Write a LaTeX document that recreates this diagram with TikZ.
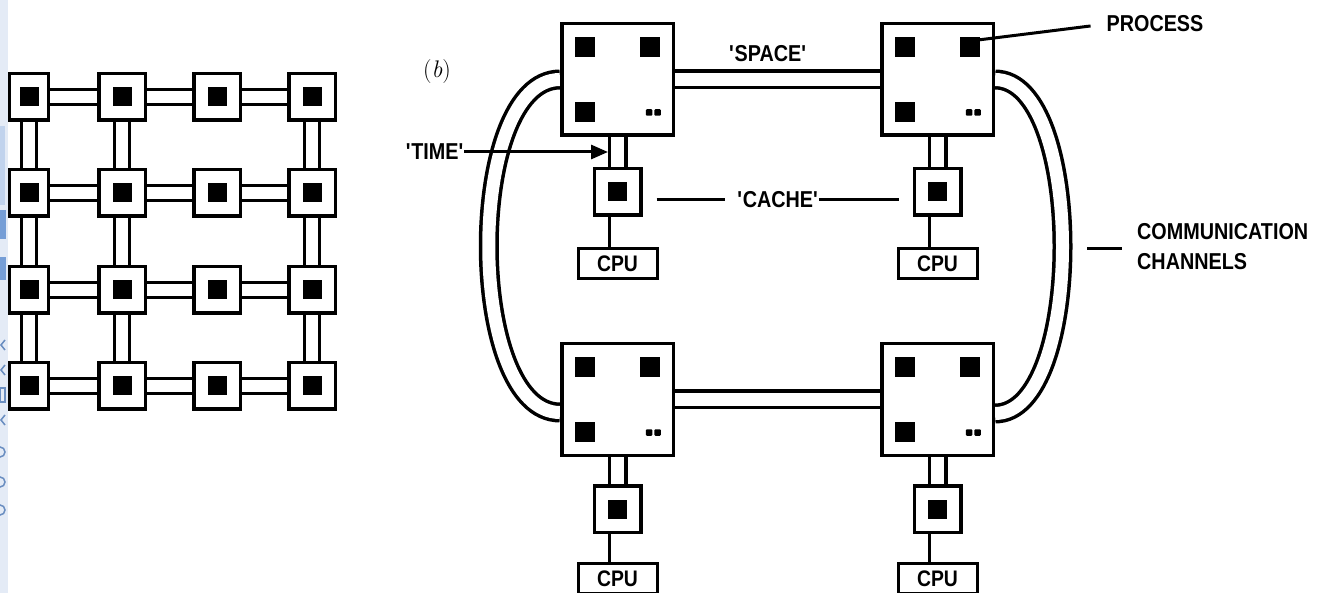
\documentclass[tikz,border=0pt]{standalone}
\usepackage{fontspec}
\newfontfamily\labelfont{Liberation Sans}[FakeStretch=0.86]
\usetikzlibrary{arrows.meta,positioning,backgrounds}
\definecolor{bandblue}{RGB}{228,235,246}
\definecolor{markblue}{RGB}{118,158,214}
\tikzset{
  cell/.style={
    draw,
    line width=3.5pt,
    fill=white,
    minimum width=46.5pt,
    minimum height=46.5pt,
    inner sep=0pt,
    path picture={\fill[black] (path picture bounding box.center) +(-9.5pt,-9.5pt) rectangle +(9.5pt,9.5pt);}
  },
  proc/.style={
    draw,
    line width=3.5pt,
    fill=white,
    minimum size=111.5pt,
    inner sep=0pt,
    path picture={
      \fill[black] ([shift={(13.5pt,-13.5pt)}]path picture bounding box.north west) rectangle +(19.5pt,-19.5pt);
      \fill[black] ([shift={(-13.5pt,-13.5pt)}]path picture bounding box.north east) rectangle +(-19.5pt,-19.5pt);
      \fill[black] ([shift={(13.5pt,13.5pt)}]path picture bounding box.south west) rectangle +(19.5pt,19.5pt);
      \fill[black, rounded corners=1pt] ([shift={(-12.5pt,19.5pt)}]path picture bounding box.south east) rectangle +(-6.5pt,6.5pt);
      \fill[black, rounded corners=1pt] ([shift={(-21pt,19.5pt)}]path picture bounding box.south east) rectangle +(-6.5pt,6.5pt);
    }
  },
  cpu/.style={
    draw,
    line width=3pt,
    fill=white,
    minimum width=79pt,
    minimum height=30pt,
    inner sep=0pt,
    font=\labelfont\bfseries\fontsize{22.5}{26}\selectfont
  },
  lbl/.style={
    inner sep=0pt,
    align=left,
    font=\labelfont\bfseries\fontsize{23}{30}\selectfont
  },
  link/.style={
    draw=black,
    line width=3.5pt,
    double=white,
    double distance=11.5pt
  },
  chan/.style={
    link,
    double distance=13pt
  },
  wire/.style={
    line width=3pt
  },
  arrow/.style={
    -{Triangle[length=17pt,width=14pt]},
    line width=3pt
  }
}
\begin{document}
\begin{tikzpicture}[x=1pt,y=-1pt,node distance=205pt]
\useasboundingbox (0,0) rectangle (1320,593);
% page edge
\fill[bandblue] (0,0) rectangle (8,593);
\fill[markblue!45] (0,126) rectangle (5,205);
\fill[markblue] (0,210) rectangle (6,239);
\fill[markblue] (0,257) rectangle (6,280);
\foreach \y in {345,370,420}
  \draw[markblue!90!black, line width=1.5pt] (5,\y-5) -- (1,\y) -- (5,\y+5);
\draw[markblue!90!black, line width=1.5pt] (0,388) rectangle (5,402);
\foreach \y in {452,482,510}
  \draw[markblue!90!black, line width=1.5pt] (0,\y) circle (5);

% (a) grid
\foreach \c/\x/\w in {1/29/39,2/122/46.5,3/217/46.5,4/312/46.5}
  \foreach \r/\y in {1/97,2/193,3/290,4/386}
    \node[cell, minimum width=\w pt] (g\r\c) at (\x,\y) {};

% (b)
\node (blbl) at (437,72) {\fontsize{24}{28}\selectfont(\textit{b})};
\node[proc] (p1) at (617.5,79.5) {};
\node[proc, right=of p1] (p2) {};
\node[proc, below=of p1] (p3) {};
\node[proc, right=of p3] (p4) {};
\node[cell, below=30pt of p1] (c1) {};
\node[cpu, below=30pt of c1] (u1) {CPU};
\node[cell, below=30pt of p2] (c2) {};
\node[cpu, below=30pt of c2] (u2) {CPU};
\node[cell, below=27pt of p3] (c3) {};
\node[cpu, below=28pt of c3] (u3) {CPU};
\node[cell, below=27pt of p4] (c4) {};
\node[cpu, below=28pt of c4] (u4) {CPU};

\begin{scope}[on background layer]
\foreach \r in {1,...,4}
  \draw[link] (g\r1) -- (g\r4);
\foreach \c in {1,2,4}
  \draw[link] (g1\c) -- (g4\c);
\draw[chan] (p1) -- (p2);
\draw[chan] (p3) -- (p4);
\draw[chan] (p1) -- (c1);
\draw[chan] (p2) -- (c2);
\draw[chan] (p3) -- (c3);
\draw[chan] (p4) -- (c4);
\draw[chan] (p1.west) to[out=180,in=180,distance=95pt] ([yshift=-13pt]p3.west);
\draw[chan] (p2.east) to[out=0,in=0,distance=90pt] ([yshift=-14pt]p4.east);
\end{scope}

\draw[wire, transform canvas={xshift=-8pt}] (c1) -- (u1);
\draw[wire, transform canvas={xshift=-8pt}] (c2) -- (u2);
\draw[wire, transform canvas={xshift=-8pt}] (c3) -- (u3);
\draw[wire, transform canvas={xshift=-8pt}] (c4) -- (u4);

% labels
\node[lbl] (spacelbl) at (768,54) {\textquotesingle SPACE\textquotesingle};
\node[lbl] (timelbl) at (435,152) {\textquotesingle TIME\textquotesingle};
\coordinate (timept) at ([xshift=-9.5pt]p1.south);
\draw[arrow] (timelbl.east) -- (timelbl.east -| timept);
\node[lbl] (cachelbl) at (778,199.5) {\textquotesingle CACHE\textquotesingle};
\draw[wire, shorten <=14pt, shorten >=12pt] (c1.east |- cachelbl.west) -- (cachelbl.west);
\draw[wire, shorten >=14pt] (cachelbl.east) -- (c2.west |- cachelbl.east);
\node[lbl] (proclbl) at (1155,24) {PROCESS};
\coordinate (procpt) at ([shift={(-17pt,-18pt)}]p2.north east);
\draw[wire, shorten >=16pt] (procpt) -- (proclbl.west);
\node[lbl, anchor=west] (commlbl) at (1137,246.5) {COMMUNICATION\\CHANNELS};
\coordinate (commpt) at (1087,249);
\draw[wire, shorten >=15pt] (commpt) -- (commpt -| commlbl.west);
\end{tikzpicture}
\end{document}
